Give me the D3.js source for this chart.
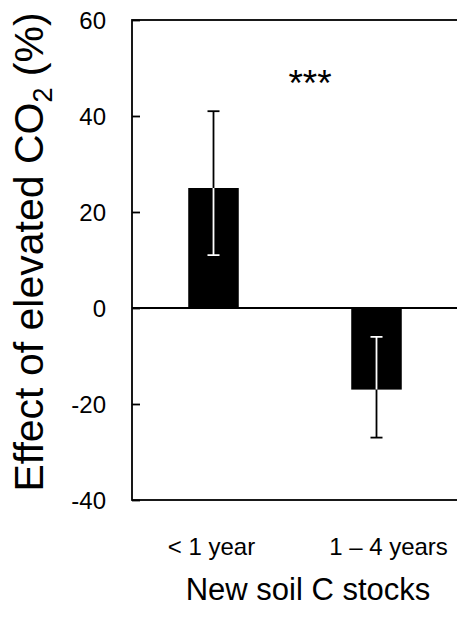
<!DOCTYPE html>
<html lang="en">

<head>
    <meta charset="utf-8">
    <title>Effect of elevated CO2</title>
    <script src="https://cdn.jsdelivr.net/npm/d3@7"></script>
    <style>
        body { margin: 0; background: #fff; }
        svg text { font-family: "Liberation Sans", Arial, sans-serif; fill: #000; }
    </style>
</head>

<body>
    <script type="text/javascript">
        // data
        var categories = ["< 1 year", "1 \u2013 4 years"];
        var means = [25, -17];
        var errLow = [11, -27];
        var errHigh = [41, -6];
        var yTicks = [-40, -20, 0, 20, 40, 60];

        var W = 457, H = 621;
        var plotLeft = 132, plotTop = 20, plotRight = 458, plotBottom = 500;
        var lw = 1.8;

        var svg = d3.select("body").append("svg")
            .attr("width", W)
            .attr("height", H);

        // scales
        var x = d3.scaleBand()
            .domain(categories)
            .range([plotLeft, plotRight])
            .paddingInner(0.69)
            .paddingOuter(0.345);
        var y = d3.scaleLinear()
            .domain([-40, 60])
            .range([plotBottom, plotTop]);

        // frame
        svg.append("rect")
            .attr("x", plotLeft)
            .attr("y", plotTop)
            .attr("width", plotRight - plotLeft)
            .attr("height", plotBottom - plotTop)
            .attr("fill", "none")
            .attr("stroke", "#000")
            .attr("stroke-width", lw);

        // y axis, ticks pointing inwards
        var yAxis = d3.axisRight(y)
            .tickValues(yTicks)
            .tickSize(8)
            .tickFormat(function(d) { return String(d); });
        var gy = svg.append("g")
            .attr("transform", "translate(" + plotLeft + ",0)")
            .call(yAxis);
        gy.select(".domain").remove();
        gy.selectAll(".tick line").attr("stroke", "#000").attr("stroke-width", lw);
        gy.selectAll(".tick text")
            .attr("x", -26)
            .attr("dy", "0.34em")
            .attr("text-anchor", "end")
            .style("font-size", "24px");

        // bars
        svg.selectAll("rect.bar")
            .data(categories)
            .enter()
            .append("rect")
            .attr("class", "bar")
            .attr("x", function(d) { return x(d); })
            .attr("y", function(d, i) { return y(Math.max(0, means[i])); })
            .attr("width", x.bandwidth())
            .attr("height", function(d, i) { return Math.abs(y(means[i]) - y(0)); })
            .attr("fill", "#000");

        // zero line
        svg.append("line")
            .attr("x1", plotLeft)
            .attr("x2", plotRight)
            .attr("y1", y(0))
            .attr("y2", y(0))
            .attr("stroke", "#000")
            .attr("stroke-width", lw);

        // clip paths so the error bar turns white inside the bar
        var defs = svg.append("defs");
        categories.forEach(function(d, i) {
            defs.append("clipPath")
                .attr("id", "clip" + i)
                .append("rect")
                .attr("x", x(d) - 10)
                .attr("y", y(Math.max(0, means[i])))
                .attr("width", x.bandwidth() + 20)
                .attr("height", Math.abs(y(means[i]) - y(0)));
        });

        function drawErr(g, i, colour) {
            var cx = x(categories[i]) + x.bandwidth() / 2;
            g.append("line")
                .attr("x1", cx).attr("x2", cx)
                .attr("y1", y(errLow[i])).attr("y2", y(errHigh[i]))
                .attr("stroke", colour).attr("stroke-width", lw);
            [errLow[i], errHigh[i]].forEach(function(v) {
                g.append("line")
                    .attr("x1", cx - 6).attr("x2", cx + 6)
                    .attr("y1", y(v)).attr("y2", y(v))
                    .attr("stroke", colour).attr("stroke-width", lw);
            });
        }
        categories.forEach(function(d, i) {
            drawErr(svg.append("g"), i, "#000");
            drawErr(svg.append("g").attr("clip-path", "url(#clip" + i + ")"), i, "#fff");
        });

        // significance stars
        svg.append("text")
            .attr("x", (x(categories[0]) + x(categories[1]) + x.bandwidth()) / 2 + 15)
            .attr("y", 96)
            .attr("text-anchor", "middle")
            .style("font-size", "37px")
            .text("***");

        // category labels
        svg.selectAll("text.cat")
            .data(categories)
            .enter()
            .append("text")
            .attr("class", "cat")
            .attr("x", function(d, i) { return x(d) + x.bandwidth() / 2 + (i == 1 ? 12 : -2); })
            .attr("y", 555)
            .attr("text-anchor", "middle")
            .style("font-size", "24px")
            .text(function(d) { return d; });

        // axis titles
        svg.append("text")
            .attr("x", 308)
            .attr("y", 600)
            .attr("text-anchor", "middle")
            .style("font-size", "31px")
            .text("New soil C stocks");

        var yt = svg.append("text")
            .attr("transform", "translate(43,252) rotate(-90)")
            .attr("text-anchor", "middle")
            .style("font-size", "41px");
        yt.append("tspan").text("Effect of elevated CO");
        yt.append("tspan").attr("dy", 9).style("font-size", "27px").text("2");
        yt.append("tspan").attr("dy", -9).text(" (%)");
    </script>
</body>

</html>
